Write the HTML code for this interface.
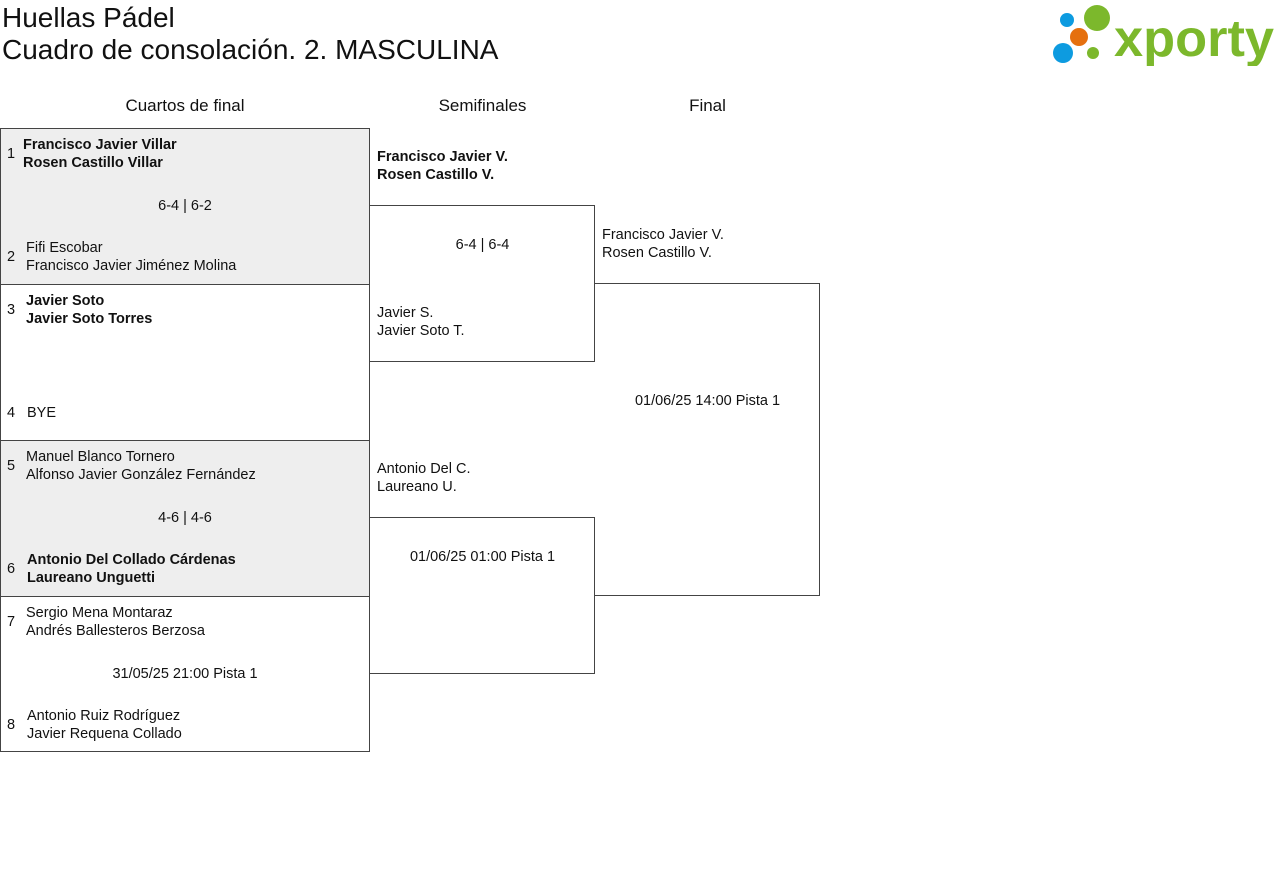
<!DOCTYPE html>
<html><head><meta charset="utf-8"><style>
body{margin:0;width:1280px;height:883px;background:#fff;font-family:"Liberation Sans",sans-serif;color:#111;position:relative;overflow:hidden}
.a{position:absolute;white-space:nowrap}
.t{font-size:14.5px;line-height:18px}
.b{font-weight:bold}
.box{position:absolute;border:1px solid #444;box-sizing:border-box}
.h{font-size:17px;text-align:center;position:absolute}
</style></head><body>
<div class="a" style="left:2px;top:2px;font-size:28px;line-height:32px">Huellas Pádel</div>
<div class="a" style="left:2px;top:34px;font-size:28px;line-height:32px">Cuadro de consolación. 2. MASCULINA</div>
<svg class="a" style="left:1050px;top:4px" width="226" height="62">
<circle cx="17" cy="16" r="7" fill="#0d9be0"/><circle cx="47" cy="14" r="13" fill="#7cb82c"/>
<circle cx="29" cy="33" r="9" fill="#e5700f"/><circle cx="13" cy="49" r="10" fill="#0d9be0"/><circle cx="43" cy="49" r="6" fill="#7cb82c"/>
<text x="64" y="52" font-family="Liberation Sans,sans-serif" font-size="52" font-weight="bold" fill="#7cb82c" textLength="160" lengthAdjust="spacingAndGlyphs">xporty</text>
</svg>
<div class="h" style="left:0;width:370px;top:96px">Cuartos de final</div>
<div class="h" style="left:370px;width:225px;top:96px">Semifinales</div>
<div class="h" style="left:595px;width:225px;top:96px">Final</div>

<div class="box" style="left:0;top:128px;width:370px;height:157px;background:#eee"></div>
<div class="box" style="left:0;top:284px;width:370px;height:157px"></div>
<div class="box" style="left:0;top:440px;width:370px;height:157px;background:#eee"></div>
<div class="box" style="left:0;top:596px;width:370px;height:156px"></div>
<div class="box" style="left:369px;top:205px;width:226px;height:157px"></div>
<div class="box" style="left:369px;top:517px;width:226px;height:157px"></div>
<div class="box" style="left:594px;top:283px;width:226px;height:313px;border-left:none"></div>

<div class="a t" style="left:7px;top:145px">1</div>
<div class="a t b" style="left:23px;top:136px">Francisco Javier Villar<br>Rosen Castillo Villar</div>
<div class="a t" style="left:0;width:370px;text-align:center;top:197px">6-4 | 6-2</div>
<div class="a t" style="left:7px;top:248px">2</div>
<div class="a t" style="left:26px;top:239px">Fifi Escobar<br>Francisco Javier Jiménez Molina</div>

<div class="a t" style="left:7px;top:301px">3</div>
<div class="a t b" style="left:26px;top:292px">Javier Soto<br>Javier Soto Torres</div>
<div class="a t" style="left:7px;top:404px">4</div>
<div class="a t" style="left:27px;top:404px">BYE</div>

<div class="a t" style="left:7px;top:457px">5</div>
<div class="a t" style="left:26px;top:448px">Manuel Blanco Tornero<br>Alfonso Javier González Fernández</div>
<div class="a t" style="left:0;width:370px;text-align:center;top:509px">4-6 | 4-6</div>
<div class="a t" style="left:7px;top:560px">6</div>
<div class="a t b" style="left:27px;top:551px">Antonio Del Collado Cárdenas<br>Laureano Unguetti</div>

<div class="a t" style="left:7px;top:613px">7</div>
<div class="a t" style="left:26px;top:604px">Sergio Mena Montaraz<br>Andrés Ballesteros Berzosa</div>
<div class="a t" style="left:0;width:370px;text-align:center;top:665px">31/05/25 21:00 Pista 1</div>
<div class="a t" style="left:7px;top:716px">8</div>
<div class="a t" style="left:27px;top:707px">Antonio Ruiz Rodríguez<br>Javier Requena Collado</div>

<div class="a t b" style="left:377px;top:148px">Francisco Javier V.<br>Rosen Castillo V.</div>
<div class="a t" style="left:370px;width:225px;text-align:center;top:236px">6-4 | 6-4</div>
<div class="a t" style="left:377px;top:304px">Javier S.<br>Javier Soto T.</div>
<div class="a t" style="left:377px;top:460px">Antonio Del C.<br>Laureano U.</div>
<div class="a t" style="left:370px;width:225px;text-align:center;top:548px">01/06/25 01:00 Pista 1</div>

<div class="a t" style="left:602px;top:226px">Francisco Javier V.<br>Rosen Castillo V.</div>
<div class="a t" style="left:595px;width:225px;text-align:center;top:392px">01/06/25 14:00 Pista 1</div>
</body></html>
